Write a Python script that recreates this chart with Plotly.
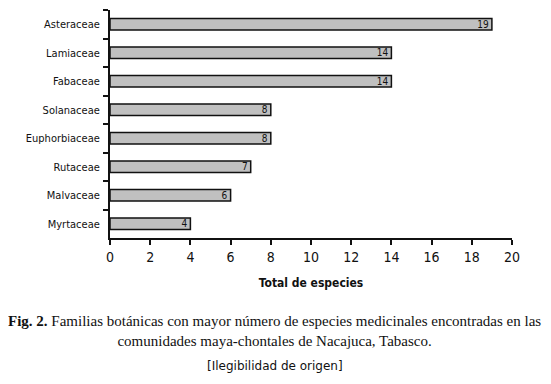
import plotly.graph_objects as go

families = ["Asteraceae", "Lamiaceae", "Fabaceae", "Solanaceae",
            "Euphorbiaceae", "Rutaceae", "Malvaceae", "Myrtaceae"]
species = [19, 14, 14, 8, 8, 7, 6, 4]
x_ticks = [0, 2, 4, 6, 8, 10, 12, 14, 16, 18, 20]

NARROW = "DejaVu Sans Condensed, Liberation Sans Narrow, Liberation Sans"

fig = go.Figure(go.Bar(
    y=families, x=species, orientation="h",
    marker=dict(color="#c0c0c0", line=dict(color="#111111", width=1.5)),
    width=0.4,
    text=[str(v) for v in species], textposition="inside",
    insidetextanchor="end", textangle=0, constraintext="none",
    textfont=dict(family=NARROW, size=10, color="#111111"),
))

# page body adds an 8px offset; figure sized to fill the remaining window
fig.update_layout(
    width=543, height=376,
    margin=dict(l=102, r=39, t=2, b=146, autoexpand=False),
    plot_bgcolor="white", paper_bgcolor="white",
    showlegend=False,
    font=dict(family=NARROW, color="#111111"),
)
fig.update_xaxes(
    range=[0, 20], tickvals=x_ticks, showgrid=False, zeroline=False,
    showline=True, linecolor="#111111", linewidth=2,
    ticks="outside", ticklen=5, tickwidth=2, tickcolor="#111111",
    tickfont=dict(size=14, family=NARROW),
    title=dict(text="<b>Total de especies</b>", font=dict(size=12), standoff=15),
)
fig.update_yaxes(
    categoryorder="array", categoryarray=families, autorange="reversed",
    showgrid=False, zeroline=False,
    showline=True, linecolor="#111111", linewidth=2,
    ticks="outside", ticklen=5, tickwidth=2, tickcolor="#111111",
    tickson="boundaries", ticklabelstandoff=6,
    tickfont=dict(size=11, family=NARROW),
)

fig.add_annotation(
    xref="paper", yref="paper", x=0.41, y=-0.32,
    xanchor="center", yanchor="top", showarrow=False, align="center",
    text="<b>Fig. 2.</b> Familias botánicas con mayor número de especies medicinales encontradas en las<br>comunidades maya-chontales de Nacajuca, Tabasco.",
    font=dict(family="Liberation Serif, Times New Roman", size=15, color="#111111"),
)
fig.add_annotation(
    xref="paper", yref="paper", x=0.41, y=-0.52,
    xanchor="center", yanchor="top", showarrow=False,
    text="[Ilegibilidad de origen]",
    font=dict(family="DejaVu Sans", size=12, color="#111111"),
)

fig.write_html("out.html")
